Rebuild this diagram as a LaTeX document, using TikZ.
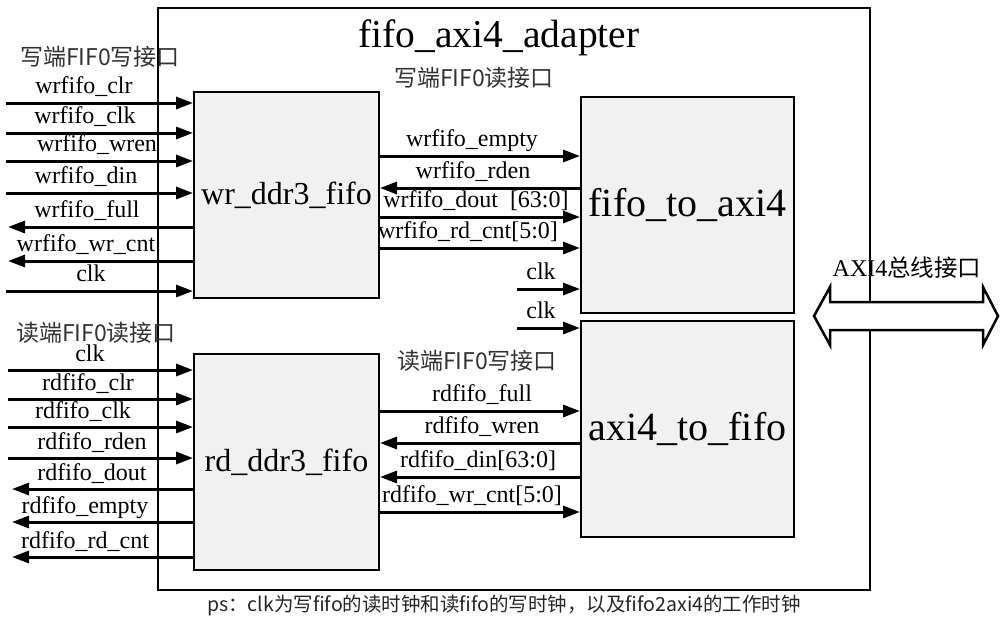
\documentclass[tikz,border=0pt]{standalone}
\usepackage{fontspec}
\setmainfont{Liberation Serif}
\newfontfamily\cjk{Noto Sans CJK SC}
\usetikzlibrary{arrows.meta, positioning, calc}
\definecolor{boxgray}{HTML}{F1F1F1}

\begin{document}
\begin{tikzpicture}[x=1pt, y=-1pt, >={Triangle[length=17pt, width=12pt]},
  blk/.style={draw=black, line width=2pt, fill=boxgray, inner sep=0pt, anchor=north west},
  sig/.style={line width=3pt},
  lbl/.style={font=\fontsize{24}{24}\selectfont, anchor=base, inner sep=0pt},
  zh/.style={font=\cjk\fontsize{23}{23}\selectfont, text=black!80, inner sep=0pt}]

  \useasboundingbox (0,0) rectangle (1001,625);

  % Outer module
  \node[draw, line width=2pt, inner sep=0pt, anchor=north west,
        minimum width=712pt, minimum height=582pt] (top) at (157,7) {};
  \node[font=\fontsize{39.5}{39.5}\selectfont, anchor=base] (title) at (499,47) {fifo\_axi4\_adapter};

  % AXI4 bus
  \draw[line width=2.5pt, fill=white, line join=miter]
    (814,316) -- (830,287) -- (830,302) -- (983,302) -- (983,287) -- (998,316)
    -- (983,345) -- (983,330) -- (830,330) -- (830,345) -- cycle;
  \node[inner sep=0pt] (bus) at (907,268)
    {\fontsize{24}{24}\selectfont AXI4{\cjk\fontsize{23.5}{23.5}\selectfont 总线接口}};

  % Blocks
  \node[blk, minimum width=185pt, minimum height=206pt, font=\fontsize{32}{32}\selectfont]
    (wrf) at (193,91) {wr\_ddr3\_fifo};
  \node[blk, minimum width=185pt, minimum height=216pt, font=\fontsize{32}{32}\selectfont]
    (rdf) at (193,353) {rd\_ddr3\_fifo};
  \node[blk, minimum width=213pt, minimum height=216pt, font=\fontsize{40}{40}\selectfont]
    (fta) at (580,96) {fifo\_to\_axi4};
  \node[blk, minimum width=213pt, minimum height=216pt, font=\fontsize{40}{40}\selectfont]
    (atf) at (580,320) {axi4\_to\_fifo};

  % Interface titles
  \node[zh] (wrw) at (100,57) {写端FIF0写接口};
  \node[zh] (rdr) at (96,333) {读端FIF0读接口};
  \node[zh] (wrr) at (474,78) {写端FIF0读接口};
  \node[zh] (rdw) at (477,361) {读端FIF0写接口};

  % Write fifo ports
  \foreach \y/\lx/\txt/\io [count=\i] in {103/84/wrfifo\_clr/1, 133/85/wrfifo\_clk/1,
      161/97/wrfifo\_wren/1, 193/86/wrfifo\_din/1, 227/87/wrfifo\_full/0,
      261/86/wrfifo\_wr\_cnt/0, 291/91/clk/1}{
    \coordinate (wp\i) at (6,\y);
    \node[lbl] (wpl\i) at (\lx,\y-10) {\txt};
    \ifnum\io=1
      \draw[sig, ->] (wp\i) -- (wp\i -| wrf.west);
    \else
      \draw[sig, ->] (wp\i -| wrf.west) -- ($(wp\i)+(2,0)$);
    \fi
  }

  % Read fifo ports
  \foreach \y/\lx/\txt/\io [count=\i] in {370/90/clk/1, 399/88/rdfifo\_clr/1,
      427/83/rdfifo\_clk/1, 458/92/rdfifo\_rden/1, 489/92/rdfifo\_dout/0,
      522/85/rdfifo\_empty/0, 557/85/rdfifo\_rd\_cnt/0}{
    \coordinate (rp\i) at (8,\y);
    \node[lbl] (rpl\i) at (\lx,\y-9) {\txt};
    \ifnum\io=1
      \draw[sig, ->] (rp\i) -- (rp\i -| rdf.west);
    \else
      \draw[sig, ->] (rp\i -| rdf.west) -- ($(rp\i)+(4,0)$);
    \fi
  }

  % wr_ddr3_fifo <-> fifo_to_axi4
  \foreach \y/\lx/\txt/\io [count=\i] in {156/472/wrfifo\_empty/1, 188/473/wrfifo\_rden/0,
      217/476/{wrfifo\_dout\ \ [63:0]}/1, 248/468/{wrfifo\_rd\_cnt[5:0]}/1}{
    \coordinate (wm\i) at (0,\y);
    \node[lbl] (wml\i) at (\lx,\y-10) {\txt};
    \ifnum\io=1
      \draw[sig, ->] (wm\i -| wrf.east) -- (wm\i -| fta.west);
    \else
      \draw[sig, ->] (wm\i -| fta.west) -- (wm\i -| wrf.east);
    \fi
  }

  % rd_ddr3_fifo <-> axi4_to_fifo
  \foreach \y/\lx/\txt/\io [count=\i] in {411/482/rdfifo\_full/1, 443/482/rdfifo\_wren/0,
      477/478/{rdfifo\_din[63:0]}/0, 512/472/{rdfifo\_wr\_cnt[5:0]}/1}{
    \coordinate (rm\i) at (0,\y);
    \node[lbl] (rml\i) at (\lx,\y-10) {\txt};
    \ifnum\io=1
      \draw[sig, ->] (rm\i -| rdf.east) -- (rm\i -| atf.west);
    \else
      \draw[sig, ->] (rm\i -| atf.west) -- (rm\i -| rdf.east);
    \fi
  }

  % Clocks
  \coordinate (ck1) at (517,289);
  \coordinate (ck2) at (517,328);
  \draw[sig, ->] (ck1) -- (ck1 -| fta.west);
  \draw[sig, ->] (ck2) -- (ck2 -| atf.west);
  \node[lbl] (ckl1) at (541,279) {clk};
  \node[lbl] (ckl2) at (541,318) {clk};

  % Note
  \node[font=\cjk\fontsize{19.5}{19.5}\selectfont, text=black!85, inner sep=0pt] (note) at (504,605)
    {ps：clk为写fifo的读时钟和读fifo的写时钟，以及fifo2axi4的工作时钟};
\end{tikzpicture}
\end{document}
